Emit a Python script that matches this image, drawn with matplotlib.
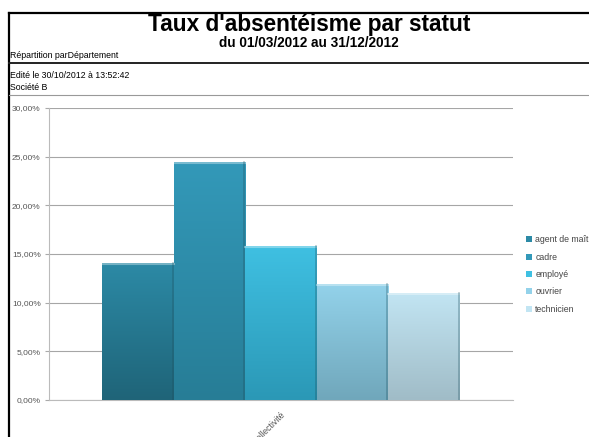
import numpy as np
import matplotlib
matplotlib.use("Agg")
import matplotlib.pyplot as plt
from matplotlib.colors import LinearSegmentedColormap
from matplotlib.patches import Patch
from matplotlib.ticker import FuncFormatter

plt.rcParams['font.family'] = ['Liberation Sans', 'DejaVu Sans']

# data
statuts = ["agent de maîtrise", "cadre", "employé", "ouvrier", "technicien"]
taux = [14.1, 24.5, 15.8, 11.9, 11.0]
categorie = "Collectivité"
yticks = [0, 5, 10, 15, 20, 25, 30]

# gradient colours (top, bottom) per series
col_top = ["#2c8aa6", "#3399b9", "#3fc0e2", "#93d2ea", "#c2e5f3"]
col_bot = ["#1f6478", "#277d96", "#2b98b6", "#70a7bb", "#a0bcc7"]

fig = plt.figure(figsize=(5.89, 4.37), dpi=100)

# report frame
fig.add_artist(plt.Line2D([9/589, 9/589], [0, 1 - 13/437], color="black", lw=1.6, transform=fig.transFigure))
fig.add_artist(plt.Line2D([9/589, 1], [1 - 13/437, 1 - 13/437], color="black", lw=1.6, transform=fig.transFigure))
fig.add_artist(plt.Line2D([9/589, 1], [1 - 63/437, 1 - 63/437], color="#222222", lw=1.4, transform=fig.transFigure))
fig.add_artist(plt.Line2D([9/589, 1], [1 - 95/437, 1 - 95/437], color="#999999", lw=0.8, transform=fig.transFigure))

fig.text(309/589, 1 - 25/437, "Taux d'absentéisme par statut", ha="center", va="center",
         fontsize=16.3, fontweight="bold")
fig.text(309/589, 1 - 43/437, "du 01/03/2012 au 31/12/2012", ha="center", va="center",
         fontsize=9.8, fontweight="bold")
fig.text(10/589, 1 - 56/437, "Répartition parDépartement", ha="left", va="center", fontsize=6.3)
fig.text(10/589, 1 - 75/437, "Edité le 30/10/2012 à 13:52:42", ha="left", va="center", fontsize=6.3)
fig.text(10/589, 1 - 88/437, "Société B", ha="left", va="center", fontsize=6.3)

ax = fig.add_axes([49/589, 1 - 400/437, 464/589, 292/437])

n = len(statuts)
w = 0.154
xs = (np.arange(n) - (n - 1) / 2) * w
bars = ax.bar(xs, taux, width=w, color=col_top, edgecolor="none", zorder=2)

grad = np.linspace(1, 0, 256).reshape(-1, 1)
for i, b in enumerate(bars):
    cmap = LinearSegmentedColormap.from_list("g%d" % i, [col_bot[i], col_top[i]])
    x0, x1 = b.get_x(), b.get_x() + b.get_width()
    im = ax.imshow(grad, cmap=cmap, aspect="auto", extent=[x0, x1, 0, taux[i]],
                   zorder=3, interpolation="bicubic")
    im.set_clip_path(b)
    # bevel edges
    ax.plot([x0, x1], [taux[i] - 0.12, taux[i] - 0.12], color="white", alpha=0.35, lw=1.5, zorder=4)
    ax.plot([x1 - 0.002, x1 - 0.002], [0, taux[i]], color="#1c4f5e", alpha=0.35, lw=1.2, zorder=4)

ax.set_xlim(-0.5, 0.5)
ax.set_ylim(0, 30)
ax.set_yticks(yticks)
ax.yaxis.set_major_formatter(FuncFormatter(lambda v, p: ("%.2f%%" % v).replace(".", ",")))
ax.set_xticks([0])
ax.set_xticklabels([categorie], rotation=45, ha="right", rotation_mode="anchor",
                   fontsize=6.3, color="#555555")
ax.tick_params(axis="x", length=0, pad=7)
ax.tick_params(axis="y", labelsize=6, colors="#555555", length=3, color="#aaaaaa", pad=3)
ax.grid(axis="y", color="#a6a6a6", lw=0.8, zorder=0)
ax.set_axisbelow(True)
for s in ["top", "right"]:
    ax.spines[s].set_visible(False)
ax.spines["left"].set_color("#bbbbbb")
ax.spines["bottom"].set_color("#bbbbbb")

handles = [Patch(facecolor=col_top[i], edgecolor="none") for i in range(n)]
fig.legend(handles, statuts, loc="upper left", bbox_to_anchor=(522/589, 1 - 232/437),
           frameon=False, fontsize=6.3, handlelength=0.7, handleheight=0.7,
           handletextpad=0.4, labelspacing=0.95, borderaxespad=0, labelcolor="#444444")

fig.savefig("out.png", dpi=100)
